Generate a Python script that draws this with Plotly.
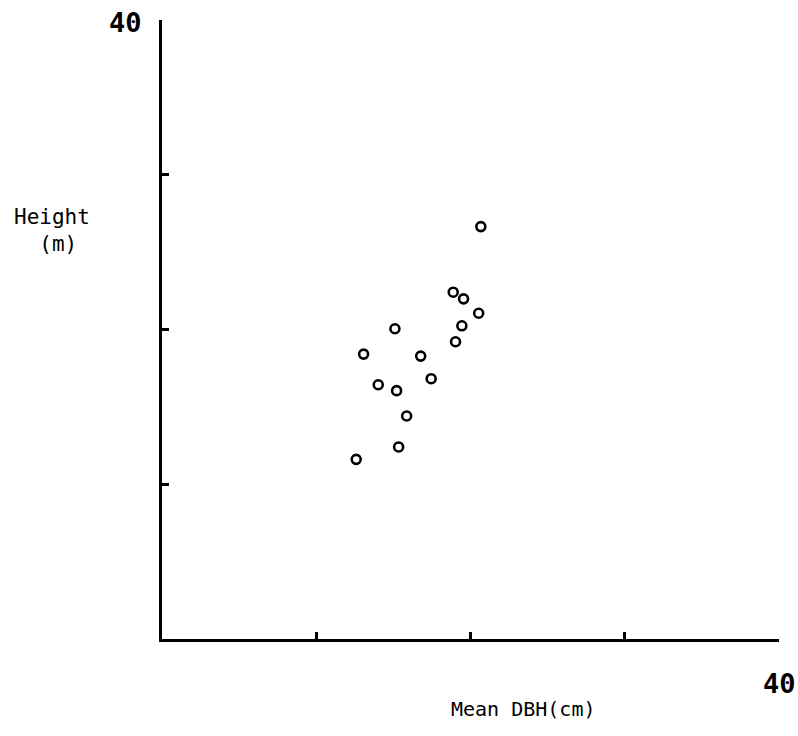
import plotly.graph_objects as go

# Stand mean diameter at breast height (cm) and mean height (m)
dbh_cm = [20.67, 18.88, 19.55, 20.53, 19.44, 15.10, 19.03, 13.07,
          16.77, 17.45, 14.02, 15.21, 15.86, 15.34, 12.59]
height_m = [26.65, 22.41, 21.98, 21.05, 20.24, 20.05, 19.21, 18.41,
            18.28, 16.82, 16.43, 16.05, 14.41, 12.41, 11.61]

tick_vals = [10, 20, 30, 40]
axis_max = 40
x_title = "Mean DBH(cm)"
y_title = "Height<br>  (m)"

FONT = "DejaVu Sans Mono"

fig = go.Figure()
fig.add_trace(go.Scatter(
    x=dbh_cm, y=height_m, mode="markers",
    marker=dict(symbol="circle-open", size=9, color="black",
                line=dict(color="black", width=2.6)),
    hoverinfo="skip", showlegend=False,
))

axis_common = dict(
    range=[0, axis_max], showgrid=False, zeroline=False,
    showline=True, linecolor="black", linewidth=2.7,
    ticks="inside", tickvals=tick_vals, ticklen=7, tickwidth=2.5,
    tickcolor="black", showticklabels=False, fixedrange=True,
)
fig.update_xaxes(**axis_common)
fig.update_yaxes(**axis_common)

# End-of-scale labels
fig.add_annotation(x=axis_max, y=0, xref="x", yref="y", text="<b>40</b>",
                   showarrow=False, xanchor="center", yanchor="middle",
                   yshift=-44, font=dict(family=FONT, size=27, color="black"))
fig.add_annotation(x=0, y=axis_max, xref="x", yref="y", text="<b>40</b>",
                   showarrow=False, xanchor="right", yanchor="middle",
                   xshift=-18, yshift=-2,
                   font=dict(family=FONT, size=27, color="black"))

# Axis titles
fig.add_annotation(x=0.586, y=-0.09, xref="paper", yref="paper",
                   text=x_title, showarrow=False, xanchor="center",
                   yanchor="top", font=dict(family=FONT, size=20, color="black"))
fig.add_annotation(x=-0.243, y=0.66, xref="paper", yref="paper", text=y_title,
                   showarrow=False, xanchor="left", yanchor="middle",
                   align="left", font=dict(family=FONT, size=21, color="black"))

fig.update_layout(
    width=798, height=736,
    margin=dict(l=162, r=19, t=20, b=97),
    paper_bgcolor="white", plot_bgcolor="white",
)

fig.write_html("out.html")
